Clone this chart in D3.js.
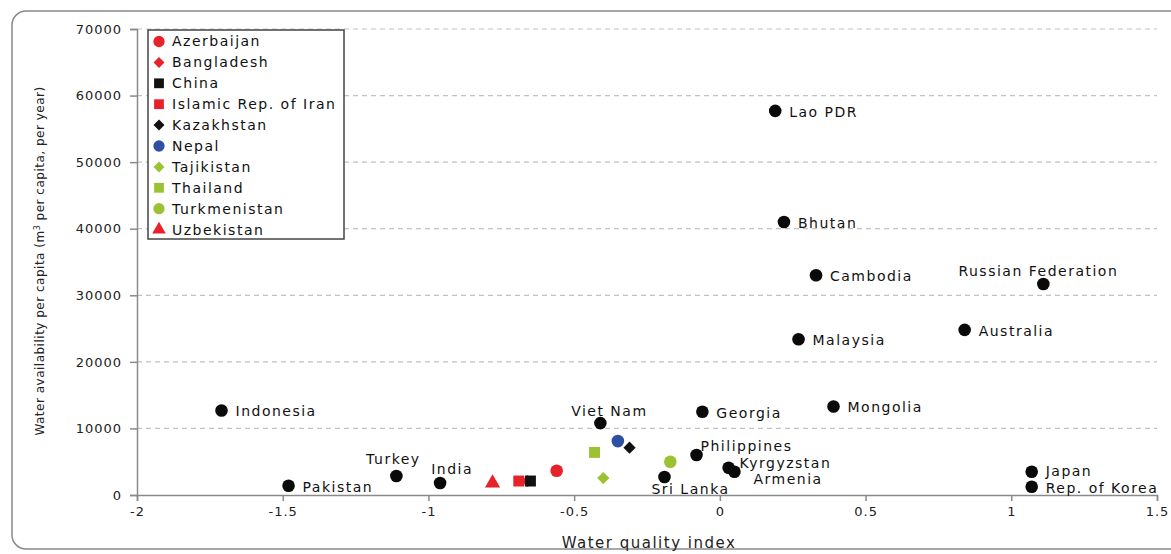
<!DOCTYPE html>
<html>
<head>
<meta charset="utf-8">
<script src="https://cdn.jsdelivr.net/npm/d3@7"></script>
<style>
  body { margin: 0; background: #fff; }
  svg { display: block; font-family: "DejaVu Sans", sans-serif; }
</style>
</head>
<body>
<div id="chart"></div>
<script>
// countries shown as plain black dots, with labels
const countries = ["Lao PDR", "Bhutan", "Cambodia", "Russian Federation", "Malaysia", "Australia",
  "Mongolia", "Georgia", "Indonesia", "Viet Nam", "Philippines", "Kyrgyzstan", "Armenia",
  "Sri Lanka", "Turkey", "India", "Pakistan", "Japan", "Rep. of Korea"]
const qualityIdx = [0.19, 0.22, 0.33, 1.11, 0.27, 0.84, 0.39, -0.06, -1.71, -0.41, -0.08, 0.03, 0.05,
  -0.19, -1.11, -0.96, -1.48, 1.07, 1.07]
const availability = [57700, 41000, 33000, 31700, 23400, 24800, 13300, 12500, 12700, 10800, 6000,
  4100, 3500, 2700, 2850, 1800, 1400, 3500, 1250]

// countries that have their own legend entry
const legendNames = ["Azerbaijan", "Bangladesh", "China", "Islamic Rep. of Iran", "Kazakhstan",
  "Nepal", "Tajikistan", "Thailand", "Turkmenistan", "Uzbekistan"]
const legendX = [-0.56, -0.66, -0.65, -0.69, -0.31, -0.35, -0.40, -0.43, -0.17, -0.78]
const legendY = [3650, 2100, 2100, 2100, 7100, 8100, 2550, 6400, 5000, 1800]

const xTicks = [-2, -1.5, -1, -0.5, 0, 0.5, 1, 1.5]
const yTicks = [0, 10000, 20000, 30000, 40000, 50000, 60000, 70000]

// a diamond as wide as it is tall
const diamond = {
  draw(ctx, size) {
    const r = Math.sqrt(size / 2)
    ctx.moveTo(0, -r); ctx.lineTo(r, 0); ctx.lineTo(0, r); ctx.lineTo(-r, 0); ctx.closePath()
  }
}

// marker style per legend entry
const red = "#e8222b", blue = "#2f4fa3", green = "#9cc234"
const legendStyle = {
  "Azerbaijan": ["circle", red],
  "Bangladesh": ["diamond", red],
  "China": ["square", "#111"],
  "Islamic Rep. of Iran": ["square", red],
  "Kazakhstan": ["diamond", "#111"],
  "Nepal": ["circle", blue],
  "Tajikistan": ["diamond", green],
  "Thailand": ["square", green],
  "Turkmenistan": ["circle", green],
  "Uzbekistan": ["triangle", red]
}
const symType = { circle: d3.symbolCircle, diamond: diamond, square: d3.symbolSquare, triangle: d3.symbolTriangle }
const symSize = { circle: 125, diamond: 75, square: 120, triangle: 100 }

// where each label sits relative to its dot
const labelSpot = {
  "Russian Federation": [-5, -13, "middle"],
  "Viet Nam": [9, -12, "middle"],
  "Philippines": [4, -9, "start"],
  "Kyrgyzstan": [11, -5, "start"],
  "Armenia": [19, 7, "start"],
  "Sri Lanka": [26, 12, "middle"],
  "Turkey": [-3, -17, "middle"],
  "India": [12, -14, "middle"],
  "Japan": [14, -0.5, "start"],
  "Rep. of Korea": [14, 1, "start"]
}

const W = 1171, H = 554
const margin = { top: 29, right: 14, bottom: 59, left: 137 }
const fontCss = "DejaVu Sans, sans-serif"

const svg = d3.select("#chart").append("svg")
  .attr("width", W).attr("height", H)

// rounded frame round the whole chart
svg.append("rect")
  .attr("x", 12).attr("y", 11).attr("width", 1180).attr("height", 538)
  .attr("rx", 14).attr("fill", "none").attr("stroke", "#8a8a8a").attr("stroke-width", 1.5)

const x = d3.scaleLinear().domain([-2, 1.5]).range([margin.left, W - margin.right])
const y = d3.scaleLinear().domain([0, 70000]).range([H - margin.bottom, margin.top])

// dashed grid
svg.append("g").selectAll("line")
  .data(yTicks.filter(d => d > 0))
  .join("line")
  .attr("x1", x(-2)).attr("x2", x(1.5))
  .attr("y1", d => y(d)).attr("y2", d => y(d))
  .attr("stroke", "#c2c2c2").attr("stroke-width", 1.2).attr("stroke-dasharray", "5,4")

const axisColor = "#8a8a8a"
const gx = svg.append("g")
  .attr("transform", `translate(0,${y(0)})`)
  .call(d3.axisBottom(x).tickValues(xTicks).tickFormat(d => String(d)).tickSize(6).tickPadding(6))
const gy = svg.append("g")
  .attr("transform", `translate(${x(-2)},0)`)
  .call(d3.axisLeft(y).tickValues(yTicks).tickFormat(d => String(d)).tickSize(7).tickPadding(8))
;[gx, gy].forEach(g => {
  g.select(".domain").attr("stroke", axisColor).attr("stroke-width", 1.5)
  g.selectAll(".tick line").attr("stroke", axisColor).attr("stroke-width", 1.5)
  g.selectAll(".tick text").attr("fill", "#222").style("font-size", "13px")
    .style("font-family", fontCss).style("letter-spacing", "1px")
})

// axis titles
svg.append("text")
  .attr("x", 649).attr("y", 548)
  .attr("text-anchor", "middle")
  .style("font-size", "15px").style("letter-spacing", "1.5px").attr("fill", "#222")
  .text("Water quality index")

const yt = svg.append("text")
  .attr("transform", `translate(44,${261}) rotate(-90)`)
  .attr("text-anchor", "middle")
  .style("font-size", "12px").style("letter-spacing", "0.5px").attr("fill", "#222")
yt.append("tspan").text("Water availability per capita (m")
yt.append("tspan").attr("dy", -4).style("font-size", "8px").text("3")
yt.append("tspan").attr("dy", 4).text(" per capita, per year)")

// coloured legend countries
const sym = (k, scale) => d3.symbol(symType[k], symSize[k] * scale)()
svg.append("g").selectAll("path")
  .data(legendNames.map((n, i) => ({ n, qx: legendX[i], qy: legendY[i] })))
  .join("path")
  .attr("transform", d => `translate(${x(d.qx)},${y(d.qy)})`)
  .attr("d", d => sym(legendStyle[d.n][0], 1))
  .attr("fill", d => legendStyle[d.n][1])

// labelled black dots
const pts = countries.map((n, i) => ({ n, qx: qualityIdx[i], qy: availability[i] }))
svg.append("g").selectAll("circle")
  .data(pts)
  .join("circle")
  .attr("cx", d => x(d.qx)).attr("cy", d => y(d.qy))
  .attr("r", 6.3).attr("fill", "#0a0a0a")

svg.append("g").selectAll("text")
  .data(pts)
  .join("text")
  .attr("x", d => x(d.qx) + (labelSpot[d.n] ? labelSpot[d.n][0] : 14))
  .attr("y", d => y(d.qy) + (labelSpot[d.n] ? labelSpot[d.n][1] : 1))
  .attr("dy", "0.35em")
  .attr("text-anchor", d => labelSpot[d.n] ? labelSpot[d.n][2] : "start")
  .style("font-size", "14px").style("letter-spacing", "1.5px").attr("fill", "#111")
  .text(d => d.n)

// legend box
const lg = svg.append("g").attr("transform", "translate(148,30)")
lg.append("rect").attr("width", 196).attr("height", 209)
  .attr("fill", "#fff").attr("stroke", "#444").attr("stroke-width", 1.5)
const li = lg.selectAll("g.item")
  .data(legendNames)
  .join("g").attr("class", "item")
  .attr("transform", (d, i) => `translate(0,${11.5 + i * 20.9})`)
li.append("path")
  .attr("transform", "translate(11,0)")
  .attr("d", d => sym(legendStyle[d][0], 0.8))
  .attr("fill", d => legendStyle[d][1])
li.append("text")
  .attr("x", 24).attr("dy", "0.35em")
  .style("font-size", "14px").style("letter-spacing", "1.5px").attr("fill", "#111")
  .text(d => d)
</script>
</body>
</html>
